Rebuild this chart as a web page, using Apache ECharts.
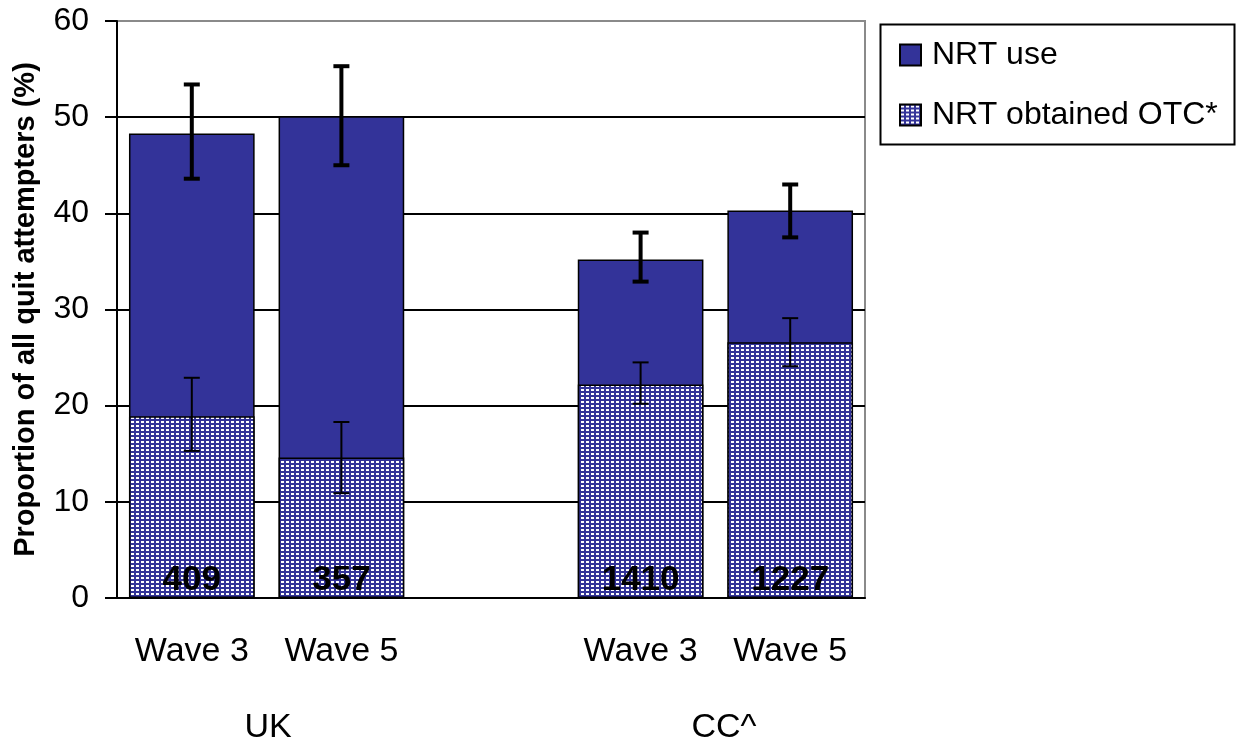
<!DOCTYPE html>
<html>
<head>
<meta charset="utf-8">
<script src="https://cdn.jsdelivr.net/npm/echarts@6/dist/echarts.min.js"></script>
<style>
html,body{margin:0;padding:0;background:#fff;}
#c{width:1238px;height:744px;}
</style>
</head>
<body>
<div id="c"></div>
<script>
const categories = ['Wave 3', 'Wave 5', '', 'Wave 3', 'Wave 5'];
const groupLabels = ['UK', 'CC^'];
const nrtUse = [48.3, 50.1, null, 35.2, 40.3];
const nrtOTC = [18.9, 14.6, null, 22.2, 26.6];
const nrtUseLow = [43.6, 45.0, null, 32.9, 37.5];
const nrtUseHigh = [53.4, 55.3, null, 38.0, 43.0];
const otcLow = [15.3, 10.9, null, 20.2, 24.1];
const otcHigh = [22.9, 18.3, null, 24.5, 29.1];
const sampleN = ['409', '357', '', '1410', '1227'];
const yTicks = [0, 10, 20, 30, 40, 50, 60];

const FONT = '"Liberation Sans", Arial, sans-serif';
const BLUE = '#333399';

// dotted pattern
const pc = document.createElement('canvas');
pc.width = 5; pc.height = 4;
const pctx = pc.getContext('2d');
pctx.fillStyle = BLUE; pctx.fillRect(0, 0, 5, 4);
pctx.fillStyle = '#ffffff'; pctx.fillRect(1, 1, 3, 2);
const dotted = { image: pc, repeat: 'repeat' };

function errData(lo, hi) {
  const out = [];
  for (let i = 0; i < lo.length; i++) {
    if (lo[i] != null) out.push([i, lo[i], hi[i]]);
  }
  return out;
}
function errRender(width) {
  return function (params, api) {
    const x = api.value(0);
    const pHi = api.coord([x, api.value(2)]);
    const pLo = api.coord([x, api.value(1)]);
    const h = 8;
    const st = { stroke: '#000', lineWidth: width };
    return {
      type: 'group',
      children: [
        { type: 'line', shape: { x1: pHi[0], y1: pHi[1], x2: pLo[0], y2: pLo[1] }, style: st },
        { type: 'line', shape: { x1: pHi[0] - h, y1: pHi[1], x2: pHi[0] + h, y2: pHi[1] }, style: st },
        { type: 'line', shape: { x1: pLo[0] - h, y1: pLo[1], x2: pLo[0] + h, y2: pLo[1] }, style: st }
      ]
    };
  };
}

const chart = echarts.init(document.getElementById('c'), null, { renderer: 'canvas' });
chart.setOption({
  animation: false,
  backgroundColor: '#fff',
  textStyle: { fontFamily: FONT },
  grid: { left: 117, right: 373, top: 21, bottom: 146, show: true, borderColor: '#8a8a8a', borderWidth: 2, backgroundColor: 'transparent' },
  legend: {
    orient: 'vertical', left: 899, top: 39, padding: 0,
    itemWidth: 21, itemHeight: 21, itemGap: 28,
    icon: 'rect',
    textStyle: { fontSize: 32, fontFamily: FONT, color: '#000', lineHeight: 32, padding: [0, 0, 0, 6] },
    data: ['NRT use', 'NRT obtained OTC*']
  },
  xAxis: {
    type: 'category', data: categories,
    axisLine: { lineStyle: { color: '#000', width: 2 } },
    axisTick: { show: false },
    axisLabel: { fontSize: 34, color: '#000', fontFamily: FONT, margin: 37, interval: 0 }
  },
  yAxis: {
    type: 'value', min: 0, max: 60, interval: 10,
    name: 'Proportion of all quit attempters (%)',
    nameLocation: 'middle', nameRotate: 90, nameGap: 77,
    nameTextStyle: { fontSize: 29, fontWeight: 'bold', color: '#000', fontFamily: FONT },
    axisLine: { show: true, lineStyle: { color: '#000', width: 2 } },
    axisTick: { show: true, inside: false, length: 12, lineStyle: { color: '#000', width: 2 } },
    axisLabel: { fontSize: 32, color: '#000', fontFamily: FONT, margin: 28,
      formatter: v => yTicks.indexOf(v) >= 0 ? String(v) : '' },
    splitLine: { show: true, lineStyle: { color: ['#000', '#000', '#000', '#000', '#000', '#000', '#8a8a8a'], width: 2 } }
  },
  series: [
    {
      name: 'NRT use', type: 'bar', data: nrtUse,
      barCategoryGap: '16%', barGap: '-100%',
      itemStyle: { color: BLUE, borderColor: '#000', borderWidth: 1.5 },
      z: 2
    },
    {
      name: 'NRT obtained OTC*', type: 'bar', data: nrtOTC,
      barCategoryGap: '16%', barGap: '-100%',
      itemStyle: { color: dotted, borderColor: '#000', borderWidth: 1.5 },
      label: {
        show: true, position: 'insideBottom', distance: 0,
        formatter: p => sampleN[p.dataIndex],
        fontSize: 35, fontWeight: 'bold', color: '#000', fontFamily: FONT
      },
      z: 3
    },
    {
      name: 'errUse', type: 'custom', data: errData(nrtUseLow, nrtUseHigh),
      renderItem: errRender(4), z: 5, silent: true
    },
    {
      name: 'errOTC', type: 'custom', data: errData(otcLow, otcHigh),
      renderItem: errRender(2), z: 5, silent: true
    }
  ],
  graphic: [
    { type: 'rect', left: 878, top: 22, shape: { width: 354, height: 120 }, style: { fill: 'none', stroke: '#000', lineWidth: 2 }, z: 10 },
    { type: 'text', x: 268, y: 728, style: { text: groupLabels[0], font: '34px ' + FONT, fill: '#000', textAlign: 'center', textVerticalAlign: 'middle' } },
    { type: 'text', x: 724, y: 728, style: { text: groupLabels[1], font: '34px ' + FONT, fill: '#000', textAlign: 'center', textVerticalAlign: 'middle' } }
  ]
});
</script>
</body>
</html>
